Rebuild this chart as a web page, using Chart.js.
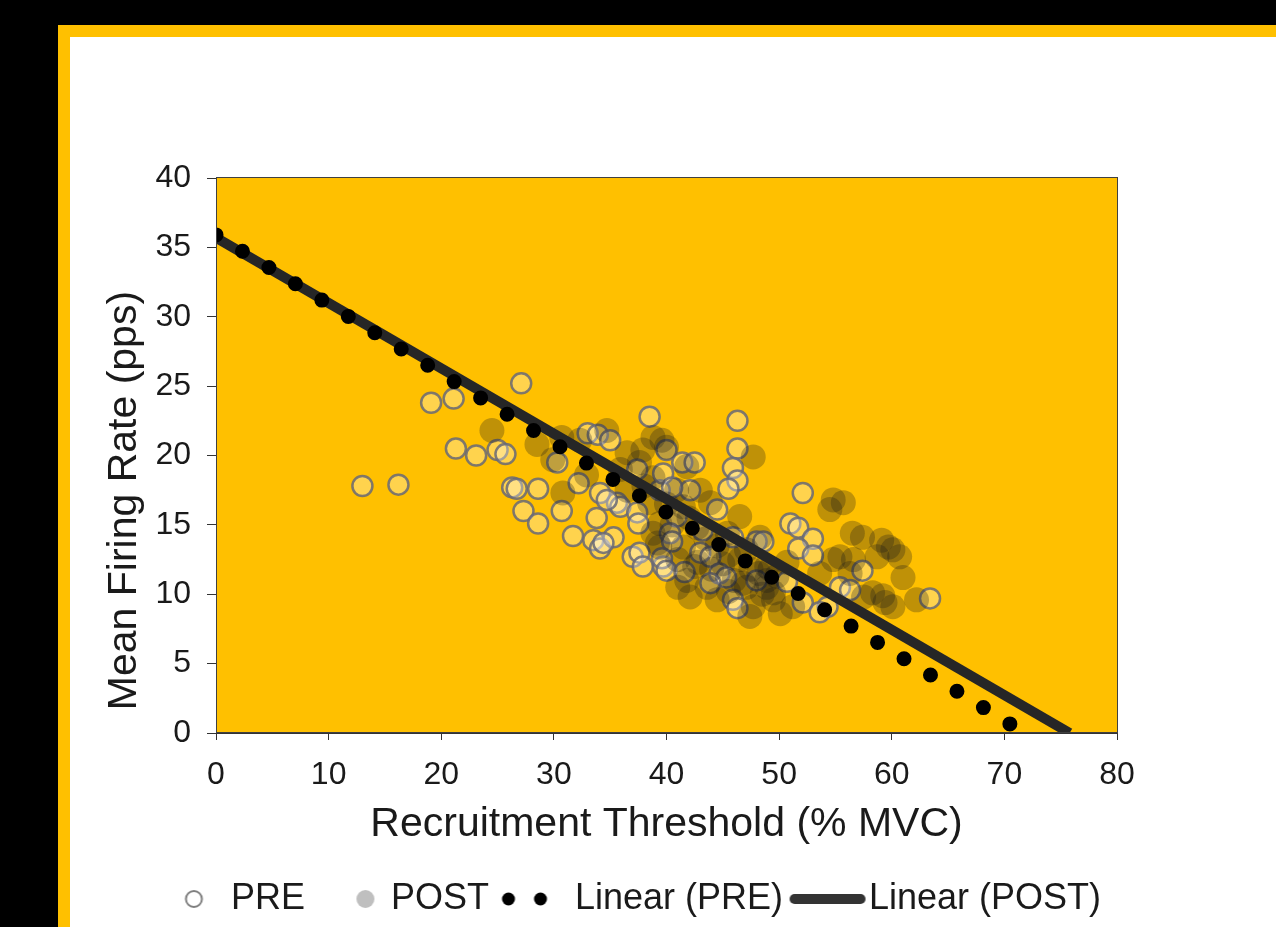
<!DOCTYPE html>
<html><head><meta charset="utf-8">
<script src="https://cdn.jsdelivr.net/npm/chart.js@4/dist/chart.umd.min.js"></script>
<style>
html,body{margin:0;padding:0;background:#000;width:1276px;height:927px;overflow:hidden;}
#frame{position:absolute;left:58px;top:25px;right:0;bottom:0;background:#fff;border-left:12px solid #FFC000;border-top:12px solid #FFC000;}
#c{position:absolute;left:0;top:0;}
</style></head><body>
<div id="frame"></div>
<canvas id="c" width="1276" height="927"></canvas>
<script>
// ---- data ----
const seriesNames = ['PRE', 'POST', 'Linear (PRE)', 'Linear (POST)'];
const xTitle = 'Recruitment Threshold (% MVC)';
const yTitle = 'Mean Firing Rate (pps)';

const preX = [13.0,16.2,19.1,21.1,27.1,21.3,23.1,25.0,25.7,26.3,26.7,28.6,27.3,28.6,30.3,30.7,31.7,32.2,33.8,33.5,34.1,33.0,33.9,35.0,35.6,35.9,35.3,34.1,37.0,37.6,37.9,40.0,39.4,39.7,37.4,37.5,38.5,
  46.3,46.3,45.9,46.3,45.5,41.4,42.5,37.4,39.7,42.1,40.5,34.7,44.5,40.9,43.2,40.3,40.5,34.4,45.9,48.0,39.6,43.0,43.9,40.0,41.6,44.7,45.3,43.9,45.9,46.3,48.0,
  52.1,51.0,51.7,53.0,51.7,53.0,48.6,57.4,55.4,56.3,63.4,50.7,52.1,54.3,53.6];
const preY = [17.8,17.9,23.8,24.1,25.2,20.5,20.0,20.4,20.1,17.7,17.6,17.6,16.0,15.1,19.5,16.0,14.2,18.0,15.5,13.9,13.3,21.6,21.5,21.1,16.6,16.3,14.1,17.3,12.7,13.0,12.0,20.4,17.5,12.0,15.9,15.1,22.8,
  22.5,20.5,19.1,18.2,17.6,19.5,19.5,19.0,18.7,17.5,17.7,16.8,16.1,15.6,14.6,14.4,13.8,13.7,14.1,13.8,12.6,13.0,12.7,11.7,11.6,11.5,11.2,10.8,9.6,9.0,11.0,
  17.3,15.1,14.8,14.0,13.3,12.8,13.8,11.7,10.5,10.3,9.7,10.9,9.4,9.1,8.7];

const postX = [24.5,28.5,30.7,30.8,29.9,32.3,38.8,40.0,35.9,37.6,38.8,39.4,41.0,32.9,
  39.6,47.7,37.9,36.5,34.7,41.8,38.8,40.9,43.0,36.5,38.5,41.5,43.9,46.5,39.4,42.7,45.4,48.3,39.2,41.5,47.1,48.9,46.5,41.8,43.6,47.1,48.9,49.5,44.5,42.1,47.7,
  54.8,55.7,54.5,56.5,59.1,59.7,60.7,61.0,58.7,54.8,53.6,59.2,59.4,60.1,62.2,57.5,51.2,50.7,56.3,55.4,48.9,49.5,50.1,
  60.1,57.4,56.6,58.3,47.4,45.0,44.0,46.0,42.8,45.5,48.2,49.8,48.5,
  40.5,42.0,44.5,43.5,41.0,40.0,45.5,47.5,46.8,49.2,42.5,38.0];
const postY = [21.8,20.8,21.3,17.3,19.7,21.1,21.3,20.6,19.0,19.5,14.4,13.4,10.5,18.6,
  21.1,19.9,20.4,20.2,21.8,19.2,18.4,17.5,17.5,17.5,16.6,16.3,16.6,15.6,15.1,14.8,14.4,14.1,13.7,13.4,13.2,12.0,12.5,11.0,10.5,10.5,10.5,9.6,9.6,9.8,9.1,
  16.8,16.6,16.1,14.4,13.9,13.4,12.7,11.2,12.7,12.5,11.5,9.9,9.4,9.1,9.6,9.8,9.1,12.3,11.5,12.7,11.0,10.1,8.6,
  13.2,14.1,12.5,10.1,8.4,12.2,11.8,11.0,12.3,10.2,11.5,11.3,10.0,
  15.0,15.5,13.5,14.0,12.5,16.5,12.8,11.8,10.8,11.8,12.0,17.8];

// trend line end points
const linPreX = [0, 70.5];
const linPreY = [35.9, 0.65];
const linPostX = [0, 75.8];
const linPostY = [35.7, 0];

const xTicks = {min: 0, max: 80, step: 10};
const yTicks = {min: 0, max: 40, step: 5};

// ---- chart ----
const F = "'Liberation Sans', Arial, sans-serif";
const toPts = (xs, ys) => xs.map((x, i) => ({x: x, y: ys[i]}));

function mk(w, h, draw) {
  const c = document.createElement('canvas');
  c.width = w; c.height = h;
  draw(c.getContext('2d'), w, h);
  return c;
}
const legIcons = [
  mk(24, 24, (g) => { g.beginPath(); g.arc(13.5, 12, 8, 0, Math.PI * 2); g.strokeStyle = '#7f7f7f'; g.lineWidth = 2; g.stroke(); }),
  mk(50, 24, (g) => { g.beginPath(); g.arc(38, 12, 9, 0, Math.PI * 2); g.fillStyle = '#bfbfbf'; g.fill(); }),
  mk(80, 24, (g) => { g.fillStyle = '#000'; [12, 44].forEach(cx => { g.beginPath(); g.arc(cx, 12, 6.5, 0, Math.PI * 2); g.fill(); }); }),
  mk(92, 24, (g) => { g.beginPath(); g.moveTo(10, 12); g.lineTo(76, 12); g.strokeStyle = '#333'; g.lineWidth = 10; g.lineCap = 'round'; g.stroke(); })
];

const plotBg = {
  id: 'plotBg',
  beforeDraw(chart) {
    const {ctx, chartArea: a} = chart;
    ctx.save();
    ctx.fillStyle = '#FFC000';
    ctx.fillRect(a.left, a.top, a.right - a.left, a.bottom - a.top);
    ctx.restore();
  },
  afterDatasetsDraw(chart) {
    const {ctx, chartArea: a} = chart;
    ctx.save();
    ctx.strokeStyle = '#404040';
    ctx.lineWidth = 1;
    ctx.strokeRect(Math.round(a.left) + 0.5, Math.round(a.top) - 0.5, Math.round(a.right - a.left), Math.round(a.bottom - a.top));
    ctx.restore();
  }
};

new Chart(document.getElementById('c'), {
  type: 'scatter',
  data: {
    datasets: [
      {
        label: seriesNames[0], data: toPts(preX, preY), order: 4,
        pointRadius: 10, pointBorderWidth: 2.5,
        pointBackgroundColor: 'rgba(255,255,255,0.3)', pointBorderColor: 'rgba(105,105,118,0.85)'
      },
      {
        label: seriesNames[1], data: toPts(postX, postY), order: 3,
        pointRadius: 12.5, pointBorderWidth: 0,
        pointBackgroundColor: 'rgba(25,25,25,0.28)', pointBorderColor: 'rgba(0,0,0,0)'
      },
      {
        type: 'line', label: seriesNames[2], data: toPts(linPreX, linPreY), order: 1,
        borderColor: '#000', borderWidth: 15, borderDash: [0, 31.08], borderCapStyle: 'round',
        pointRadius: 0, fill: false, tension: 0, clip: 0
      },
      {
        type: 'line', label: seriesNames[3], data: toPts(linPostX, linPostY), order: 2,
        borderColor: '#262626', borderWidth: 10, borderCapStyle: 'butt',
        pointRadius: 0, fill: false, tension: 0, clip: 0
      }
    ]
  },
  options: {
    responsive: false,
    devicePixelRatio: 1,
    animation: false,
    events: [],
    layout: {padding: {left: 70, right: 73, top: 178, bottom: 0}},
    plugins: {
      tooltip: {enabled: false},
      legend: {
        position: 'bottom',
        labels: {
          usePointStyle: true, pointStyleWidth: 41, padding: 27,
          font: {family: F, size: 36}, color: '#1a1a1a',
          generateLabels: (chart) => chart.data.datasets.map((ds, i) => ({
            text: ds.label, pointStyle: legIcons[i], datasetIndex: i, hidden: false,
            lineWidth: 0, fillStyle: 'rgba(0,0,0,0)', strokeStyle: 'rgba(0,0,0,0)', fontColor: '#1a1a1a'
          }))
        }
      }
    },
    scales: {
      x: {
        type: 'linear', position: 'bottom', min: xTicks.min, max: xTicks.max,
        ticks: {stepSize: xTicks.step, font: {family: F, size: 32}, color: '#1a1a1a', padding: 16, maxRotation: 0},
        grid: {drawOnChartArea: false, drawTicks: true, tickLength: 7, color: '#333', lineWidth: 1},
        border: {display: true, color: '#333', width: 1},
        title: {display: true, text: xTitle, font: {family: F, size: 41}, color: '#1a1a1a', padding: {top: 0, bottom: 5}},
        afterFit(s) { s.height = 121; }
      },
      y: {
        type: 'linear', position: 'left', min: yTicks.min, max: yTicks.max,
        ticks: {stepSize: yTicks.step, font: {family: F, size: 32}, color: '#1a1a1a', padding: 16},
        grid: {drawOnChartArea: false, drawTicks: true, tickLength: 9, color: '#333', lineWidth: 1},
        border: {display: true, color: '#333', width: 1},
        title: {display: true, text: '  ' + yTitle, align: 'start', font: {family: F, size: 41}, color: '#1a1a1a', padding: {top: 30, bottom: 0}},
        afterFit(s) { s.width = 146; }
      },
      yR: {
        type: 'linear', position: 'right', display: true,
        ticks: {display: false}, grid: {display: false}, border: {display: false},
        afterFit(s) { s.width = 86; }
      }
    }
  },
  plugins: [plotBg]
});
</script>
</body></html>
